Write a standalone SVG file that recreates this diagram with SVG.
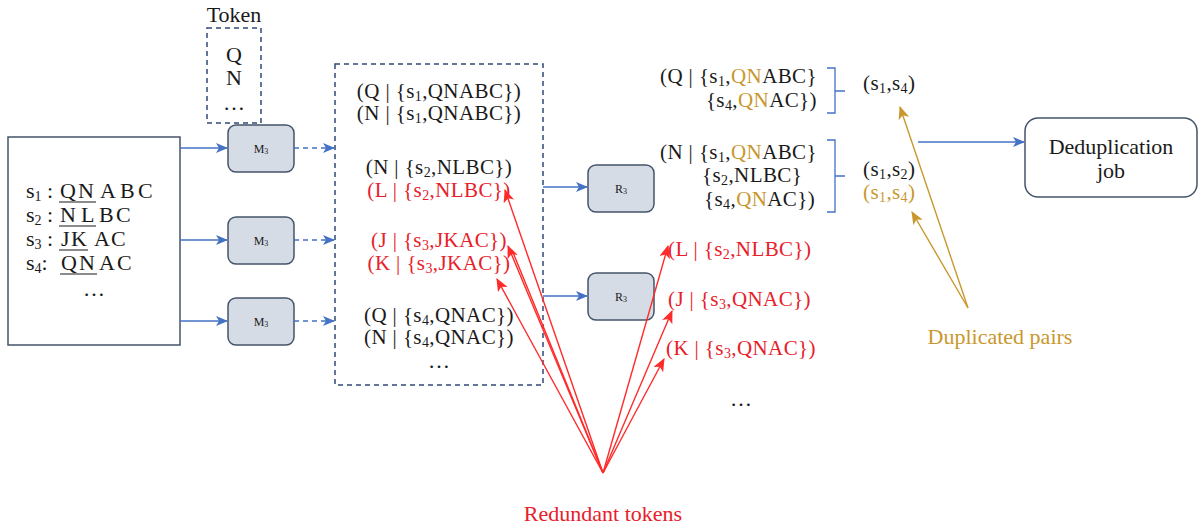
<svg xmlns="http://www.w3.org/2000/svg" width="1201" height="529" viewBox="0 0 1201 529">
<defs>
<style>
text{font-family:"Liberation Serif","Times New Roman",serif;fill:#1a1a1a;font-size:22px}
.t{font-size:21px;letter-spacing:0.4px}
.sub{font-size:14px}
.red{fill:#e8202a}
.gold{fill:#c8982e}
.mbox{fill:#d6dce6;stroke:#44546a;stroke-width:1.5}
.small{font-size:12px}
.blue{stroke:#4472c4;stroke-width:1.5;fill:none}
.dash{stroke:#4472c4;stroke-width:1.5;fill:none;stroke-dasharray:5 4}
.dbox{fill:none;stroke:#2f4a7a;stroke-width:1.5;stroke-dasharray:5 4}
.rl{stroke:#ff2a2a;stroke-width:1.4;fill:none}
.gl{stroke:#c8982e;stroke-width:1.4;fill:none}
.br{stroke:#4472c4;stroke-width:1.3;fill:none}
</style>
<marker id="ab" viewBox="0 0 12 10" refX="11" refY="5" markerWidth="12" markerHeight="10" markerUnits="userSpaceOnUse" orient="auto"><path d="M0,0 L12,5 L0,10 L3,5 z" fill="#4472c4"/></marker>
<marker id="ar" viewBox="0 0 12 10" refX="11" refY="5" markerWidth="14" markerHeight="11" markerUnits="userSpaceOnUse" orient="auto"><path d="M0,0 L12,5 L0,10 L3,5 z" fill="#ff2a2a"/></marker>
<marker id="ag" viewBox="0 0 12 10" refX="11" refY="5" markerWidth="14" markerHeight="11" markerUnits="userSpaceOnUse" orient="auto"><path d="M0,0 L12,5 L0,10 L3,5 z" fill="#c8982e"/></marker>
</defs>
<rect width="1201" height="529" fill="#ffffff"/>

<g id="token">
<text x="234" y="22" text-anchor="middle">Token</text>
<rect class="dbox" x="207" y="28" width="54" height="95"/>
<text x="234" y="62" text-anchor="middle">Q</text>
<text x="234" y="85" text-anchor="middle">N</text>
<text x="234" y="110" text-anchor="middle">…</text>
</g>

<g id="input">
<rect x="8" y="137" width="172" height="208" fill="#ffffff" stroke="#44546a" stroke-width="1.5"/>
<text x="26" y="198">s<tspan class="sub" dy="3">1</tspan><tspan dy="-3"> :</tspan><tspan x="60">Q</tspan><tspan x="78">N</tspan><tspan x="100">A</tspan><tspan x="120">B</tspan><tspan x="138">C</tspan></text>
<text x="26" y="222">s<tspan class="sub" dy="3">2</tspan><tspan dy="-3"> :</tspan><tspan x="60">N</tspan><tspan x="81">L</tspan><tspan x="99">B</tspan><tspan x="116">C</tspan></text>
<text x="26" y="246">s<tspan class="sub" dy="3">3</tspan><tspan dy="-3"> :</tspan><tspan x="61">J</tspan><tspan x="71">K</tspan><tspan x="94">A</tspan><tspan x="111">C</tspan></text>
<text x="26" y="270">s<tspan class="sub" dy="3">4</tspan><tspan dy="-3">:</tspan><tspan x="61">Q</tspan><tspan x="79">N</tspan><tspan x="99">A</tspan><tspan x="117">C</tspan></text>
<text x="94" y="296" text-anchor="middle">…</text>
<path d="M59 202H96M59 226H96M59 250H88M60 274H97" stroke="#1a1a1a" stroke-width="1.2"/>
</g>

<g id="m1"><rect class="mbox" x="228" y="125" width="66" height="47" rx="8"/><text class="small" x="261" y="153" text-anchor="middle">M<tspan font-size="8" dy="1">3</tspan></text></g>
<g id="m2"><rect class="mbox" x="228" y="217" width="66" height="47" rx="8"/><text class="small" x="261" y="245" text-anchor="middle">M<tspan font-size="8" dy="1">3</tspan></text></g>
<g id="m3"><rect class="mbox" x="228" y="298" width="66" height="47" rx="8"/><text class="small" x="261" y="326" text-anchor="middle">M<tspan font-size="8" dy="1">3</tspan></text></g>

<g id="mapout">
<rect class="dbox" x="335" y="64" width="208" height="321"/>
<text class="t" x="439" y="98" text-anchor="middle">(Q | {s<tspan class="sub" dy="3">1</tspan><tspan dy="-3">,QNABC})</tspan></text>
<text class="t" x="439" y="120" text-anchor="middle">(N | {s<tspan class="sub" dy="3">1</tspan><tspan dy="-3">,QNABC})</tspan></text>
<text class="t" x="439" y="174" text-anchor="middle">(N | {s<tspan class="sub" dy="3">2</tspan><tspan dy="-3">,NLBC})</tspan></text>
<text class="t red" x="439" y="197" text-anchor="middle">(L | {s<tspan class="sub" dy="3">2</tspan><tspan dy="-3">,NLBC})</tspan></text>
<text class="t red" x="439" y="247" text-anchor="middle">(J | {s<tspan class="sub" dy="3">3</tspan><tspan dy="-3">,JKAC})</tspan></text>
<text class="t red" x="439" y="270" text-anchor="middle">(K | {s<tspan class="sub" dy="3">3</tspan><tspan dy="-3">,JKAC})</tspan></text>
<text class="t" x="439" y="322" text-anchor="middle">(Q | {s<tspan class="sub" dy="3">4</tspan><tspan dy="-3">,QNAC})</tspan></text>
<text class="t" x="439" y="344" text-anchor="middle">(N | {s<tspan class="sub" dy="3">4</tspan><tspan dy="-3">,QNAC})</tspan></text>
<text x="439" y="368" text-anchor="middle">…</text>
</g>

<g id="r1"><rect class="mbox" x="588" y="165" width="66" height="47" rx="8"/><text class="small" x="621" y="193" text-anchor="middle">R<tspan font-size="8" dy="1">3</tspan></text></g>
<g id="r2"><rect class="mbox" x="588" y="273" width="66" height="47" rx="8"/><text class="small" x="621" y="301" text-anchor="middle">R<tspan font-size="8" dy="1">3</tspan></text></g>

<g id="reduceout">
<text class="t" x="817" y="83" text-anchor="end">(Q | {s<tspan class="sub" dy="3">1</tspan><tspan dy="-3">,</tspan><tspan class="gold">QN</tspan>ABC}</text>
<text class="t" x="817" y="107" text-anchor="end">{s<tspan class="sub" dy="3">4</tspan><tspan dy="-3">,</tspan><tspan class="gold">QN</tspan>AC})</text>
<text class="t" x="817" y="159" text-anchor="end">(N | {s<tspan class="sub" dy="3">1</tspan><tspan dy="-3">,</tspan><tspan class="gold">QN</tspan>ABC}</text>
<text class="t" x="702" y="182">{s<tspan class="sub" dy="3">2</tspan><tspan dy="-3">,NLBC}</tspan></text>
<text class="t" x="704" y="206">{s<tspan class="sub" dy="3">4</tspan><tspan dy="-3">,</tspan><tspan class="gold">QN</tspan>AC})</text>
<path class="br" d="M827 68H835V113H827M835 91H845"/>
<path class="br" d="M827 140H835V212H827M835 176H845"/>
<text class="t" x="863" y="90">(s<tspan class="sub" dy="3">1</tspan><tspan dy="-3">,s</tspan><tspan class="sub" dy="3">4</tspan><tspan dy="-3">)</tspan></text>
<text class="t" x="863" y="176">(s<tspan class="sub" dy="3">1</tspan><tspan dy="-3">,s</tspan><tspan class="sub" dy="3">2</tspan><tspan dy="-3">)</tspan></text>
<text class="t gold" x="863" y="199">(s<tspan class="sub" dy="3">1</tspan><tspan dy="-3">,s</tspan><tspan class="sub" dy="3">4</tspan><tspan dy="-3">)</tspan></text>
<text class="t red" x="668" y="256">(L | {s<tspan class="sub" dy="3">2</tspan><tspan dy="-3">,NLBC})</tspan></text>
<text class="t red" x="668" y="306">(J | {s<tspan class="sub" dy="3">3</tspan><tspan dy="-3">,QNAC})</tspan></text>
<text class="t red" x="666" y="355">(K | {s<tspan class="sub" dy="3">3</tspan><tspan dy="-3">,QNAC})</tspan></text>
<text x="741" y="406" text-anchor="middle">…</text>
</g>

<g id="dedup">
<rect x="1025" y="118" width="172" height="79" rx="13" fill="#ffffff" stroke="#44546a" stroke-width="1.5"/>
<text x="1111" y="154" text-anchor="middle">Deduplication</text>
<text x="1111" y="178" text-anchor="middle">job</text>
</g>

<g id="labels">
<text class="red" x="603" y="521" text-anchor="middle">Redundant tokens</text>
<text class="gold" x="1000" y="344" text-anchor="middle">Duplicated pairs</text>
</g>

<g id="connectors">
<path class="blue" d="M180 148H227" marker-end="url(#ab)"/>
<path class="blue" d="M180 240H227" marker-end="url(#ab)"/>
<path class="blue" d="M180 321H227" marker-end="url(#ab)"/>
<path class="dash" d="M294 148H334" marker-end="url(#ab)"/>
<path class="dash" d="M294 240H334" marker-end="url(#ab)"/>
<path class="dash" d="M294 321H334" marker-end="url(#ab)"/>
<path class="blue" d="M543 187H587" marker-end="url(#ab)"/>
<path class="blue" d="M543 296H587" marker-end="url(#ab)"/>
<path class="blue" d="M918 142H1024" marker-end="url(#ab)"/>
<path class="rl" d="M603 473L505 190" marker-end="url(#ar)"/>
<path class="rl" d="M603 473L508 246" marker-end="url(#ar)"/>
<path class="rl" d="M603 473L512 250"/>
<path class="rl" d="M603 473L497 279" marker-end="url(#ar)"/>
<path class="rl" d="M603 473L668 246" marker-end="url(#ar)"/>
<path class="rl" d="M603 473L672 311" marker-end="url(#ar)"/>
<path class="rl" d="M603 473L664 359" marker-end="url(#ar)"/>
<path class="gl" d="M968 308L900 107" marker-end="url(#ag)"/>
<path class="gl" d="M968 308L912 212" marker-end="url(#ag)"/>
</g>
</svg>
